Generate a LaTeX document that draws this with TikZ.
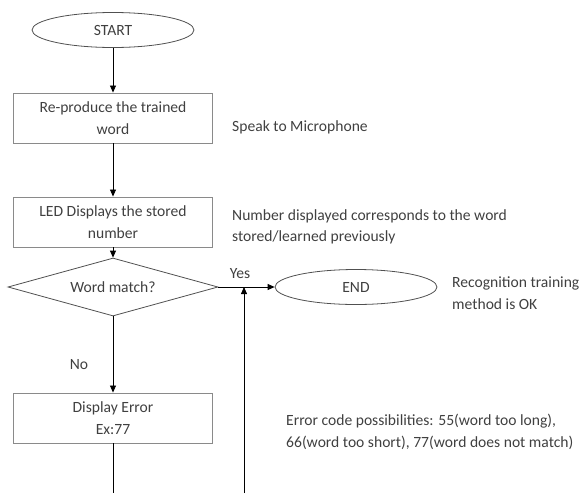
\documentclass[tikz,border=0pt]{standalone}
\usepackage{fontspec}
\setmainfont{Carlito}
\usetikzlibrary{shapes.geometric,arrows.meta}
\definecolor{txt}{HTML}{404040}
\definecolor{edge}{HTML}{505050}
\definecolor{boxedge}{HTML}{8A8A8A}
\begin{document}
\begin{tikzpicture}[x=1pt,y=-1pt,
  every node/.style={font=\fontsize{15.6}{21.5}\selectfont, text=txt},
  term/.style={ellipse, draw=edge, line width=0.8pt, minimum width=162pt, minimum height=35pt, inner sep=0pt},
  proc/.style={rectangle, draw=boxedge, line width=0.9pt, minimum width=199pt, minimum height=50pt, align=center, inner sep=0pt},
  decision/.style={diamond, aspect=3.6, draw=edge, line width=0.8pt, minimum width=210pt, minimum height=58pt, inner sep=0pt},
  note/.style={anchor=west, align=left, inner sep=0pt},
  flow/.style={draw=black, line width=0.8pt, -{Triangle[length=7pt,width=6pt]}},
  plain/.style={draw=black, line width=0.8pt}
]
\useasboundingbox (0,0) rectangle (583,493);

% flowchart blocks
\node[term] (start) at (113,30) {START};
\node[proc] (reprod) at (113,118) {Re-produce the trained\\word};
\node[proc] (led) at (113,222) {LED Displays the stored\\number};
\node[decision] (match) at (113,287) {Word match?};
\node[term] (end) at (356,287) {END};
\node[proc] (err) at (113,418) {Display Error\\Ex:77};

% free ends of the open lines at the bottom
\coordinate (errout) at (113,493);
\coordinate (loopin) at (244,493);
\coordinate (join) at (244,287);

% connectors
\draw[flow] (start) -- (reprod);
\draw[flow] (reprod) -- (led);
\draw[flow] (led) -- (match);
\draw[flow] (match) -- (end);
\draw[flow] (match) -- (err);
\draw[plain] (err) -- (errout);
\draw[flow] (loopin) -- (join);

% branch labels
\node (yes) at (240,274) {Yes};
\node (no) at (79,365) {No};

% side notes
\node[note] (speak) at (232,127) {Speak to Microphone};
\node[note] (numnote) at (232,227) {Number displayed corresponds to the word\\stored/learned previously};
\node[note] (oknote) at (452,293) {Recognition training\\method is OK};
\node[note] (errnote) at (286,432) {Error code possibilities: 55(word too long),\\66(word too short), 77(word does not match)};
\end{tikzpicture}
\end{document}
